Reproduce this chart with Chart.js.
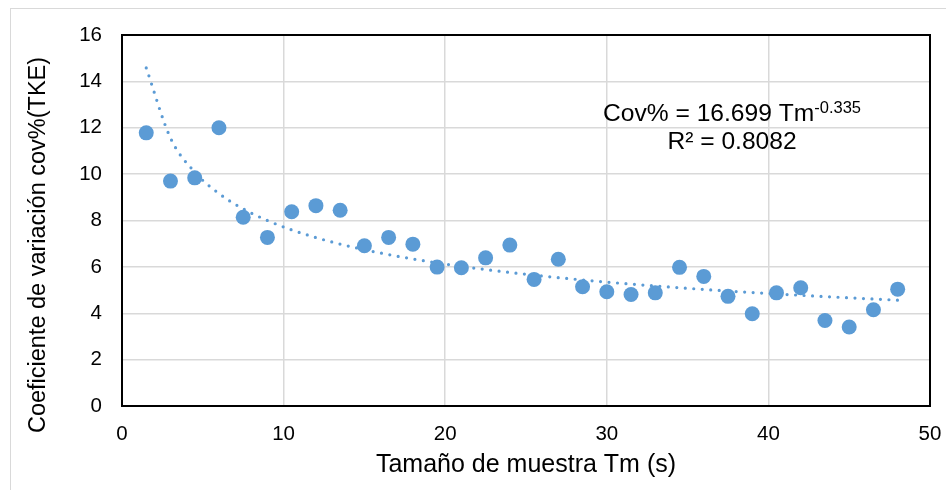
<!DOCTYPE html>
<html>
<head>
<meta charset="utf-8">
<script src="https://cdn.jsdelivr.net/npm/chart.js@4.4.1/dist/chart.umd.min.js"></script>
<style>
  html, body { margin: 0; padding: 0; background: #fff; }
  #cov { display: block; }
</style>
</head>
<body>
<canvas id="cov" width="946" height="490"></canvas>
<script>
// Sample size (s) and coefficient of variation of TKE (%)
const tm = [1.5, 3, 4.5, 6, 7.5, 9, 10.5, 12, 13.5, 15, 16.5, 18, 19.5, 21, 22.5, 24,
            25.5, 27, 28.5, 30, 31.5, 33, 34.5, 36, 37.5, 39, 40.5, 42, 43.5, 45, 46.5, 48];
const cov = [11.78, 9.70, 9.84, 12.0, 8.14, 7.27, 8.38, 8.64, 8.44, 6.91, 7.27, 6.98, 5.99, 5.96, 6.39, 6.94,
             5.46, 6.33, 5.14, 4.93, 4.81, 4.88, 5.98, 5.59, 4.73, 3.98, 4.88, 5.10, 3.69, 3.41, 4.15, 5.04];

// power trendline  Cov% = a * Tm^b
const fitA = 16.699;
const fitB = -0.335;
const fitR2 = 0.8082;

const xTicks = [0, 10, 20, 30, 40, 50];
const yTicks = [0, 2, 4, 6, 8, 10, 12, 14, 16];

const yTitle = 'Coeficiente de variación cov%(TKE)';
const xTitle = 'Tamaño de muestra Tm (s)';

const blue = '#5b9bd5';
const fontFamily = '"Liberation Sans", Arial, sans-serif';

const points = tm.map((t, i) => ({ x: t, y: cov[i] }));
const trend = tm.map(t => ({ x: t, y: fitA * Math.pow(t, fitB) }));

// white background + light outer frame
const background = {
    id: 'background',
    beforeDraw(chart) {
        const ctx = chart.ctx;
        ctx.save();
        ctx.fillStyle = '#fff';
        ctx.fillRect(0, 0, chart.width, chart.height);
        ctx.strokeStyle = '#d9d9d9';
        ctx.lineWidth = 1;
        ctx.strokeRect(10.5, 8.5, 960, 520);
        ctx.restore();
    }
};

// black box around the plot area
const plotFrame = {
    id: 'plotFrame',
    beforeDatasetsDraw(chart) {
        const { ctx, chartArea: a } = chart;
        ctx.save();
        ctx.strokeStyle = '#000';
        ctx.lineWidth = 2;
        ctx.strokeRect(a.left, a.top, a.right - a.left, a.bottom - a.top);
        ctx.restore();
    }
};

// vertical axis title, sitting a bit below the middle like Excel puts it
const sideTitle = {
    id: 'sideTitle',
    afterDraw(chart) {
        const ctx = chart.ctx;
        ctx.save();
        ctx.translate(39, 245);
        ctx.rotate(-Math.PI / 2);
        ctx.fillStyle = '#000';
        ctx.font = '23.5px ' + fontFamily;
        ctx.textAlign = 'center';
        ctx.textBaseline = 'middle';
        ctx.fillText(yTitle, 0, 0);
        ctx.restore();
    }
};

// trendline equation and R²
const equation = {
    id: 'equation',
    afterDraw(chart) {
        const { ctx, scales: { x, y } } = chart;
        const cx = x.getPixelForValue(37.75);
        const y1 = y.getPixelForValue(12.27);
        const y2 = y.getPixelForValue(11.1);
        ctx.save();
        ctx.fillStyle = '#000';
        ctx.textBaseline = 'alphabetic';

        const main = 'Cov% = ' + fitA.toFixed(3) + ' Tm';
        const sup = fitB.toString();
        ctx.font = '24.6px ' + fontFamily;
        const wMain = ctx.measureText(main).width;
        ctx.font = '16.5px ' + fontFamily;
        const wSup = ctx.measureText(sup).width;
        const start = cx - (wMain + wSup) / 2;
        ctx.font = '24.6px ' + fontFamily;
        ctx.textAlign = 'left';
        ctx.fillText(main, start, y1);
        ctx.font = '16.5px ' + fontFamily;
        ctx.fillText(sup, start + wMain, y1 - 8.5);

        ctx.font = '24.6px ' + fontFamily;
        ctx.textAlign = 'center';
        ctx.fillText('R² = ' + fitR2, cx, y2);
        ctx.restore();
    }
};

new Chart(document.getElementById('cov'), {
    type: 'scatter',
    data: {
        datasets: [
            {
                label: 'Cov%',
                data: points,
                backgroundColor: blue,
                borderWidth: 0,
                pointRadius: 7.5,
                order: 1
            },
            {
                label: 'Potencial',
                type: 'line',
                data: trend,
                borderColor: blue,
                borderWidth: 3.2,
                borderDash: [0, 8.5],
                borderCapStyle: 'round',
                cubicInterpolationMode: 'monotone',
                pointRadius: 0,
                fill: false,
                order: 2
            }
        ]
    },
    options: {
        responsive: false,
        animation: false,
        layout: { padding: { left: 14, top: 35, right: 16, bottom: 0 } },
        plugins: {
            legend: { display: false },
            tooltip: { enabled: false }
        },
        scales: {
            x: {
                type: 'linear',
                min: 0,
                max: 50,
                afterBuildTicks: s => { s.ticks = xTicks.map(v => ({ value: v })); },
                afterFit: s => {
                    s.height = 84;
                    // the "50" label fits inside the right padding already
                    s.paddingRight = 0;
                },
                grid: { color: '#d9d9d9', lineWidth: 1.5, drawTicks: false },
                border: { display: false },
                ticks: { color: '#000', padding: 16, font: { family: fontFamily, size: 20.5 } },
                title: {
                    display: true,
                    text: xTitle,
                    color: '#000',
                    padding: { top: 0, bottom: 10 },
                    font: { family: fontFamily, size: 25 }
                }
            },
            y: {
                min: 0,
                max: 16,
                afterBuildTicks: s => { s.ticks = yTicks.map(v => ({ value: v })); },
                afterFit: s => { s.width = 108; },
                grid: { color: '#d9d9d9', lineWidth: 1.5, drawTicks: false },
                border: { display: false },
                ticks: { color: '#000', padding: 20, font: { family: fontFamily, size: 20.5 } }
            }
        }
    },
    plugins: [background, plotFrame, sideTitle, equation]
});
</script>
</body>
</html>
